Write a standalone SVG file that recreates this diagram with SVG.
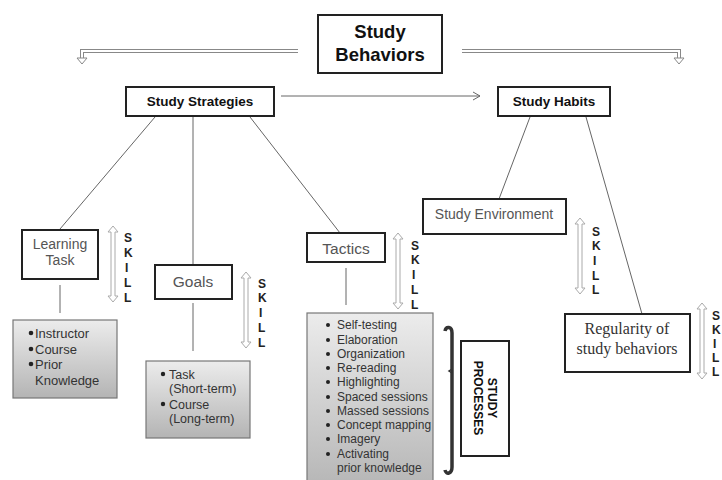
<svg xmlns="http://www.w3.org/2000/svg" width="722" height="480" viewBox="0 0 722 480">
<style>
.box{fill:#fff;stroke:#222;stroke-width:2}
.gbox{fill:url(#g);stroke:#777;stroke-width:1.2}
.h{font-family:"Liberation Sans",Arial,sans-serif;font-weight:bold;fill:#111;text-anchor:middle}
.lbl{font-family:"Liberation Sans",Arial,sans-serif;fill:#555;text-anchor:middle}
.li{font-family:"Liberation Sans",Arial,sans-serif;fill:#333}
.sk{font-family:"Liberation Sans",Arial,sans-serif;font-weight:bold;font-size:12px;fill:#222}
.ln{stroke:#666;stroke-width:1;fill:none}
.dbl{fill:none;stroke:#888;stroke-width:4}
.dbli{fill:none;stroke:#fff;stroke-width:2}
.darr{fill:#fff;stroke:#aaa;stroke-width:1}
.blt{fill:#222}
</style>
<defs>
<linearGradient id="g" x1="0" y1="0" x2="0" y2="1">
<stop offset="0" stop-color="#ececec"/>
<stop offset="1" stop-color="#b4b4b4"/>
</linearGradient>
<path id="skarr" d="M0,0 L5,6 L2,6 L2,70 L5,70 L0,76 L-5,70 L-2,70 L-2,6 L-5,6 Z"/>
</defs>

<g id="connectors">
<path class="dbl" d="M298,51 H82 V59"/>
<path class="dbli" d="M298,51 H82 V59"/>
<path d="M77,58 L87,58 L82,64 Z" fill="#fff" stroke="#888" stroke-width="1"/>
<path class="dbl" d="M462,51 H679 V59"/>
<path class="dbli" d="M462,51 H679 V59"/>
<path d="M674,58 L684,58 L679,64 Z" fill="#fff" stroke="#888" stroke-width="1"/>
<path class="ln" d="M281,96 H480 M473,92 L480,96 L473,100"/>
<path class="ln" d="M155,117 L60,229"/>
<path class="ln" d="M193,117 L193,264"/>
<path class="ln" d="M250,117 L340,233"/>
<path class="ln" d="M530,117 L499,199"/>
<path class="ln" d="M586,117 L642,314"/>
<path class="ln" d="M60,285 V313"/>
<path class="ln" d="M193,303 V351"/>
<path class="ln" d="M346,268 V305"/>
<path d="M445,331 C446,326 452,326 452,333 L452,467 C452,474 446,475 445,470" fill="none" stroke="#333" stroke-width="3.5"/>
<path d="M452,369 L449,371 L452,373" fill="none" stroke="#333" stroke-width="1.5"/>
</g>

<g id="skill-arrows">
<use href="#skarr" class="darr" x="113" y="226"/>
<use href="#skarr" class="darr" x="246" y="272"/>
<use href="#skarr" class="darr" x="398" y="233"/>
<use href="#skarr" class="darr" x="580" y="218"/>
<use href="#skarr" class="darr" x="702" y="303"/>
<text class="sk"><tspan x="124" y="242">S</tspan><tspan x="124" y="257">K</tspan><tspan x="125" y="272">I</tspan><tspan x="124" y="287">L</tspan><tspan x="124" y="302">L</tspan></text>
<text class="sk"><tspan x="258" y="288">S</tspan><tspan x="258" y="302">K</tspan><tspan x="259" y="317">I</tspan><tspan x="258" y="332">L</tspan><tspan x="258" y="347">L</tspan></text>
<text class="sk"><tspan x="411" y="250">S</tspan><tspan x="411" y="264">K</tspan><tspan x="412" y="279">I</tspan><tspan x="411" y="294">L</tspan><tspan x="411" y="309">L</tspan></text>
<text class="sk"><tspan x="592" y="236">S</tspan><tspan x="592" y="250">K</tspan><tspan x="593" y="265">I</tspan><tspan x="592" y="280">L</tspan><tspan x="592" y="294">L</tspan></text>
<text class="sk" font-size="11"><tspan x="712" y="320">S</tspan><tspan x="712" y="334">K</tspan><tspan x="713" y="348">I</tspan><tspan x="712" y="362">L</tspan><tspan x="712" y="376">L</tspan></text>
</g>

<g id="study-behaviors">
<rect class="box" x="318" y="15" width="124" height="58"/>
<text class="h" font-size="18.5" x="380" y="38">Study</text>
<text class="h" font-size="18.5" x="380" y="61">Behaviors</text>
</g>

<g id="study-strategies">
<rect class="box" x="126" y="87" width="148" height="29"/>
<text class="h" font-size="13.5" x="200" y="106">Study Strategies</text>
</g>

<g id="study-habits">
<rect class="box" x="498" y="87" width="112" height="29"/>
<text class="h" font-size="13.5" x="554" y="106">Study Habits</text>
</g>

<g id="learning-task">
<rect class="box" x="22" y="230" width="76" height="49"/>
<text class="lbl" font-size="14" x="60" y="249">Learning</text>
<text class="lbl" font-size="14" x="60" y="265">Task</text>
</g>

<g id="learning-list">
<rect class="gbox" x="13" y="320" width="104" height="78"/>
<circle class="blt" cx="31" cy="333" r="2.3"/>
<circle class="blt" cx="31" cy="349" r="2.3"/>
<circle class="blt" cx="31" cy="364" r="2.3"/>
<text class="li" font-size="13"><tspan x="35" y="338">Instructor</tspan><tspan x="35" y="354">Course</tspan><tspan x="35" y="369">Prior</tspan><tspan x="35" y="385">Knowledge</tspan></text>
</g>

<g id="goals">
<rect class="box" x="155" y="265" width="77" height="34"/>
<text class="lbl" font-size="15.5" x="193" y="287">Goals</text>
</g>

<g id="goals-list">
<rect class="gbox" x="146" y="361" width="104" height="77"/>
<circle class="blt" cx="163" cy="374" r="2.2"/>
<circle class="blt" cx="163" cy="404" r="2.2"/>
<text class="li" font-size="12.5"><tspan x="169" y="379">Task</tspan><tspan x="169" y="393">(Short-term)</tspan><tspan x="169" y="409">Course</tspan><tspan x="169" y="423">(Long-term)</tspan></text>
</g>

<g id="tactics">
<rect class="box" x="307" y="233" width="78" height="29"/>
<text class="lbl" font-size="15.5" x="346" y="254">Tactics</text>
</g>

<g id="tactics-list">
<rect class="gbox" x="307" y="313" width="126" height="180"/>
<g class="blt">
<circle cx="328" cy="325" r="2"/><circle cx="328" cy="340" r="2"/><circle cx="328" cy="354" r="2"/><circle cx="328" cy="368" r="2"/><circle cx="328" cy="382" r="2"/><circle cx="328" cy="397" r="2"/><circle cx="328" cy="411" r="2"/><circle cx="328" cy="425" r="2"/><circle cx="328" cy="439" r="2"/><circle cx="328" cy="454" r="2"/>
</g>
<text class="li" font-size="12"><tspan x="337" y="329">Self-testing</tspan><tspan x="337" y="344">Elaboration</tspan><tspan x="337" y="358">Organization</tspan><tspan x="337" y="372">Re-reading</tspan><tspan x="337" y="386">Highlighting</tspan><tspan x="337" y="401">Spaced sessions</tspan><tspan x="337" y="415">Massed sessions</tspan><tspan x="337" y="429">Concept mapping</tspan><tspan x="337" y="443">Imagery</tspan><tspan x="337" y="458">Activating</tspan><tspan x="337" y="472">prior knowledge</tspan></text>
</g>

<g id="study-processes">
<rect class="box" x="461" y="341" width="48" height="115"/>
<g transform="translate(485,398) rotate(90)">
<text class="h" font-size="12" x="0" y="-3">STUDY</text>
<text class="h" font-size="12" x="0" y="11">PROCESSES</text>
</g>
</g>

<g id="study-environment">
<rect class="box" x="423" y="199" width="143" height="35"/>
<text class="lbl" font-size="14" x="494" y="219">Study Environment</text>
</g>

<g id="regularity">
<rect class="box" x="565" y="314" width="125" height="58"/>
<text font-family="'Liberation Serif','Times New Roman',serif" font-size="16" fill="#333" text-anchor="middle"><tspan x="627" y="334">Regularity of</tspan><tspan x="627" y="354">study behaviors</tspan></text>
</g>
</svg>
